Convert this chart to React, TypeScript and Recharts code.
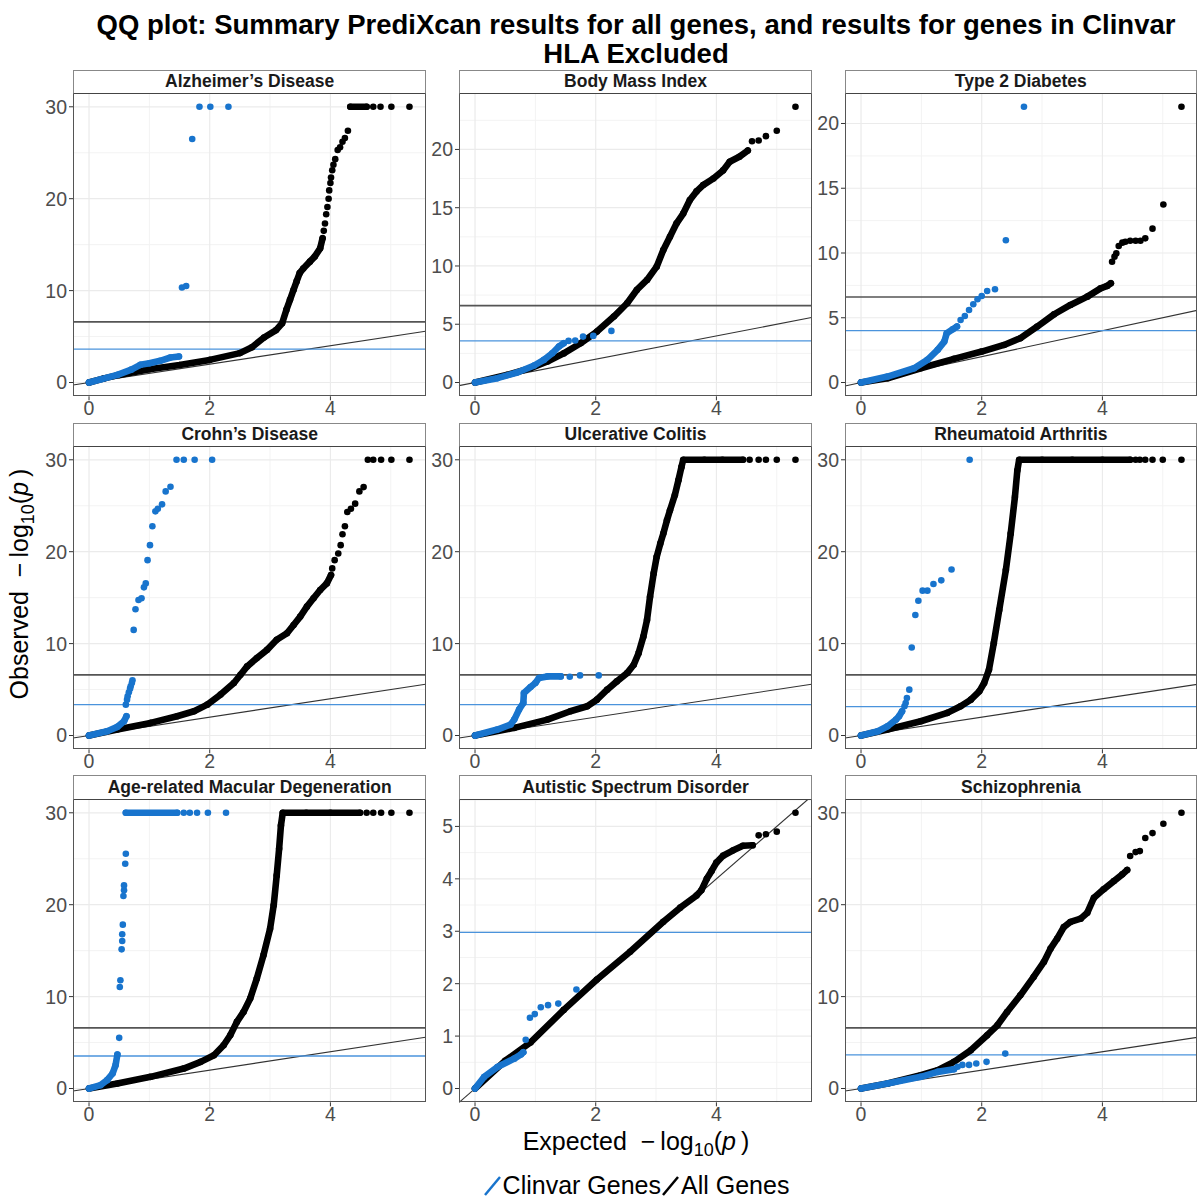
import React from "react";
import { ScatterChart, Scatter, XAxis, YAxis, ReferenceLine } from "recharts";

// ---- data: [expected, observed] pairs read off the picture ----
// "Line" arrays are runs of densely packed points, "Dots" are the separate ones.

const alzAllLine = [
  [[0, 0], [0.25, 0.45], [0.5, 0.83], [1.0, 1.45], [1.5, 1.9], [2.0, 2.46], [2.5, 3.2], [2.7, 3.84], [2.9, 4.9], [3.1, 5.7], [3.2, 6.45], [3.27, 7.9], [3.33, 9.0], [3.39, 10.1], [3.44, 11.0], [3.49, 11.9], [3.55, 12.4], [3.66, 13.15], [3.74, 13.7], [3.83, 14.6], [3.87, 15.7]],
  [[4.33, 30], [4.6, 30]],
];
const alzAllDots = [[3.89, 16.5], [3.91, 17.3], [3.93, 18.3], [3.95, 19.1], [3.97, 20.0], [3.98, 20.9], [4.0, 21.7], [4.01, 22.3], [4.03, 23.1], [4.05, 23.7], [4.08, 24.3], [4.12, 25.3], [4.16, 25.6], [4.2, 26.2], [4.24, 26.6], [4.29, 27.4], [4.71, 30], [4.83, 30], [5.01, 30], [5.31, 30]];
const alzClinLine = [[[0, 0], [0.2, 0.35], [0.47, 0.83], [0.7, 1.4], [0.85, 1.92], [1.0, 2.1], [1.18, 2.36], [1.35, 2.72], [1.49, 2.83]]];
const alzClinDots = [[1.54, 10.33], [1.61, 10.5], [1.71, 26.5], [1.83, 30], [2.01, 30], [2.31, 30]];

const bmiAllLine = [[[0, 0], [0.54, 0.66], [0.92, 1.23], [1.2, 1.8], [1.47, 2.5], [1.75, 3.37], [2.02, 4.37], [2.3, 5.66], [2.52, 6.8], [2.68, 7.94], [2.85, 8.8], [3.01, 9.94], [3.12, 11.37], [3.23, 12.5], [3.34, 13.66], [3.45, 14.5], [3.56, 15.66], [3.67, 16.4], [3.78, 16.94], [3.95, 17.5], [4.11, 18.2], [4.22, 18.94], [4.38, 19.37], [4.52, 19.9]]];
const bmiAllDots = [[4.59, 20.7], [4.7, 20.77], [4.82, 21.14], [5.0, 21.6], [5.31, 23.66]];
const bmiClinLine = [[[0, 0], [0.37, 0.37], [0.7, 0.86], [0.98, 1.46], [1.14, 1.94], [1.28, 2.51], [1.39, 3.09], [1.47, 3.37]]];
const bmiClinDots = [[1.55, 3.57], [1.66, 3.6], [1.79, 3.94], [1.96, 4.0], [2.26, 4.43]];

const t2dAllLine = [[[0, 0], [0.44, 0.33], [0.99, 1.1], [1.54, 1.83], [2.0, 2.39], [2.37, 2.9], [2.64, 3.42], [2.92, 4.32], [3.2, 5.27], [3.47, 5.99], [3.75, 6.63], [3.97, 7.27], [4.08, 7.46], [4.14, 7.66]]];
const t2dAllDots = [[4.16, 9.33], [4.2, 9.72], [4.23, 9.97], [4.27, 10.54], [4.33, 10.8], [4.38, 10.87], [4.46, 10.95], [4.55, 10.95], [4.63, 10.95], [4.71, 11.13], [4.83, 11.88], [5.01, 13.75], [5.31, 21.29]];
const t2dClinLine = [[[0, 0], [0.44, 0.46], [0.88, 1.1], [1.1, 1.75], [1.27, 2.52], [1.38, 3.16], [1.42, 3.8], [1.52, 4.11], [1.59, 4.32]]];
const t2dClinDots = [[1.65, 4.83], [1.72, 5.14], [1.79, 5.6], [1.86, 6.04], [1.93, 6.43], [2.0, 6.68], [2.09, 7.07], [2.22, 7.2], [2.4, 10.98], [2.7, 21.29]];

const crohnAllLine = [[[0, 0], [0.47, 0.65], [1.02, 1.37], [1.46, 2.1], [1.74, 2.64], [1.96, 3.36], [2.18, 4.45], [2.4, 5.71], [2.51, 6.61], [2.62, 7.52], [2.78, 8.42], [2.95, 9.32], [3.11, 10.41], [3.28, 11.13], [3.39, 12.03], [3.5, 12.94], [3.61, 14.02], [3.72, 14.93], [3.83, 15.83], [3.94, 16.55], [4.01, 17.46]]];
const crohnAllDots = [[4.03, 18.18], [4.07, 19.08], [4.13, 19.8], [4.17, 20.71], [4.2, 21.9], [4.24, 22.77], [4.28, 24.32], [4.34, 24.68], [4.41, 25.23], [4.48, 26.56], [4.55, 27.03], [4.62, 30], [4.71, 30], [4.84, 30], [5.01, 30], [5.31, 30]];
const crohnClinLine = [[[0, 0], [0.3, 0.47], [0.47, 0.94], [0.58, 1.55], [0.62, 2.1]]];
const crohnClinDots = [[0.61, 3.36], [0.63, 3.9], [0.64, 4.26], [0.66, 4.7], [0.68, 5.1], [0.69, 5.35], [0.71, 5.7], [0.72, 6.0], [0.74, 11.49], [0.77, 13.73], [0.82, 14.75], [0.87, 14.93], [0.91, 16.12], [0.94, 16.55], [0.97, 19.08], [1.01, 20.71], [1.05, 22.77], [1.1, 24.39], [1.14, 24.68], [1.21, 25.15], [1.27, 26.56], [1.35, 27.07], [1.45, 30], [1.57, 30], [1.75, 30], [2.04, 30]];

const ucAllLine = [[[0, 0], [0.65, 0.83], [1.2, 1.73], [1.58, 2.64], [1.86, 3.18], [2.02, 3.9], [2.19, 4.99], [2.35, 5.89], [2.52, 6.79], [2.63, 7.7], [2.71, 8.96], [2.79, 10.77], [2.85, 12.58], [2.9, 15.1], [2.96, 17.64], [3.01, 19.44], [3.07, 20.89], [3.12, 21.97], [3.18, 23.42], [3.23, 24.5], [3.31, 26.13], [3.37, 27.76], [3.42, 29.2], [3.45, 30], [3.8, 30], [4.1, 30], [4.44, 30]]];
const ucAllDots = [[4.55, 30], [4.7, 30], [4.82, 30], [5.0, 30], [5.31, 30]];
const ucClinLine = [[[0, 0], [0.37, 0.65], [0.59, 1.19], [0.65, 1.73], [0.73, 2.82], [0.8, 3.54], [0.81, 4.63], [0.92, 5.28], [1.0, 5.71], [1.06, 6.25], [1.2, 6.43], [1.42, 6.43]]];
const ucClinDots = [[1.57, 6.4], [1.74, 6.54], [2.05, 6.54]];

const raAllLine = [[[0, 0], [0.44, 0.65], [0.99, 1.55], [1.43, 2.46], [1.65, 3.18], [1.82, 3.9], [1.96, 4.81], [2.04, 5.71], [2.12, 7.16], [2.2, 10.05], [2.29, 13.66], [2.4, 18.0], [2.48, 21.97], [2.55, 25.95], [2.59, 28.84], [2.62, 30], [3.0, 30], [3.5, 30], [4.0, 30], [4.46, 30]]];
const raAllDots = [[4.55, 30], [4.62, 30], [4.71, 30], [4.83, 30], [5.0, 30], [5.31, 30]];
const raClinLine = [[[0, 0], [0.28, 0.47], [0.44, 1.01], [0.58, 1.73], [0.63, 2.1], [0.68, 2.64]]];
const raClinDots = [[0.72, 3.18], [0.74, 3.54], [0.76, 4.08], [0.8, 4.99], [0.84, 9.58], [0.9, 13.12], [0.95, 14.67], [1.02, 15.76], [1.1, 15.76], [1.2, 16.48], [1.33, 16.88], [1.5, 18.07], [1.8, 30]];

const amdAllLine = [[[0, 0], [0.47, 0.54], [1.02, 1.27], [1.57, 2.17], [1.85, 2.9], [2.07, 3.62], [2.23, 4.71], [2.34, 5.8], [2.45, 7.25], [2.56, 8.33], [2.67, 9.78], [2.78, 11.96], [2.89, 14.49], [3.0, 17.39], [3.06, 19.93], [3.11, 23.19], [3.15, 26.09], [3.18, 28.62], [3.21, 30], [3.6, 30], [4.0, 30], [4.49, 30]]];
const amdAllDots = [[4.6, 30], [4.71, 30], [4.84, 30], [5.01, 30], [5.31, 30]];
const amdClinLine = [
  [[0, 0], [0.19, 0.36], [0.3, 0.91], [0.39, 1.63], [0.44, 2.54], [0.47, 3.7]],
  [[0.61, 30], [1.46, 30]],
];
const amdClinDots = [[0.5, 5.51], [0.51, 11.05], [0.52, 11.78], [0.54, 15.14], [0.55, 16.05], [0.55, 16.78], [0.56, 17.83], [0.57, 20.94], [0.58, 21.56], [0.58, 22.1], [0.6, 24.46], [0.61, 25.54], [1.57, 30], [1.67, 30], [1.79, 30], [1.97, 30], [2.27, 30]];

const asdAllLine = [[[0, 0], [0.5, 0.53], [0.92, 0.88], [1.47, 1.5], [2.02, 2.08], [2.57, 2.61], [3.12, 3.18], [3.4, 3.45], [3.67, 3.68], [3.75, 3.78], [3.84, 4.0], [3.92, 4.15], [4.0, 4.31], [4.11, 4.44], [4.27, 4.54], [4.44, 4.63], [4.6, 4.64]]];
const asdAllDots = [[4.7, 4.83], [4.82, 4.85], [5.0, 4.9], [5.31, 5.26]];
const asdClinLine = [[[0, 0], [0.15, 0.22], [0.37, 0.41], [0.65, 0.57], [0.76, 0.65], [0.8, 0.69]]];
const asdClinDots = [[0.84, 0.93], [0.91, 1.35], [0.99, 1.42], [1.09, 1.55], [1.21, 1.59], [1.38, 1.62], [1.68, 1.89]];

const sczAllLine = [[[0, 0], [0.44, 0.54], [0.99, 1.45], [1.27, 1.99], [1.54, 2.9], [1.82, 4.17], [2.09, 5.8], [2.26, 6.88], [2.42, 8.33], [2.64, 10.14], [2.86, 12.14], [3.03, 13.77], [3.14, 15.22], [3.25, 16.3], [3.36, 17.57], [3.47, 18.12], [3.64, 18.48], [3.75, 19.13], [3.86, 20.76], [4.02, 21.67], [4.19, 22.57], [4.33, 23.3], [4.41, 23.77]]];
const sczAllDots = [[4.46, 25.29], [4.55, 25.72], [4.62, 25.83], [4.71, 27.25], [4.83, 27.79], [5.01, 28.8], [5.31, 30]];
const sczClinLine = [[[0, 0], [0.44, 0.54], [0.99, 1.27], [1.27, 1.81], [1.54, 2.1]]];
const sczClinDots = [[1.6, 2.36], [1.68, 2.57], [1.79, 2.57], [1.91, 2.72], [2.08, 2.9], [2.39, 3.8]];

const panelTitles = [
  "Alzheimer’s Disease", "Body Mass Index", "Type 2 Diabetes",
  "Crohn’s Disease", "Ulcerative Colitis", "Rheumatoid Arthritis",
  "Age-related Macular Degeneration", "Autistic Spectrum Disorder", "Schizophrenia",
];
const clinvarThreshold = [3.63, 3.57, 4.0, 3.36, 3.36, 3.14, 3.54, 2.98, 3.65];
const bonferroni = 6.6;
const ticks30 = [0, 10, 20, 30];
const ticks20 = [0, 5, 10, 15, 20];
const ticks5 = [0, 1, 2, 3, 4, 5];
const panelYTicks = [ticks30, ticks20, ticks20, ticks30, ticks30, ticks30, ticks30, ticks5, ticks30];
const xTicks = [0, 2, 4];
const xMinor = [1, 3, 5];

const panels = [
  [alzAllLine, alzAllDots, alzClinLine, alzClinDots],
  [bmiAllLine, bmiAllDots, bmiClinLine, bmiClinDots],
  [t2dAllLine, t2dAllDots, t2dClinLine, t2dClinDots],
  [crohnAllLine, crohnAllDots, crohnClinLine, crohnClinDots],
  [ucAllLine, ucAllDots, ucClinLine, ucClinDots],
  [raAllLine, raAllDots, raClinLine, raClinDots],
  [amdAllLine, amdAllDots, amdClinLine, amdClinDots],
  [asdAllLine, asdAllDots, asdClinLine, asdClinDots],
  [sczAllLine, sczAllDots, sczClinLine, sczClinDots],
];

// ---- layout ----
const FONT = '"Liberation Sans", Arial, Helvetica, sans-serif';
const BLUE = "#1874cd";
const PW = 352.5;
const PH = 303.3;
const STRIP_H = 23.3;
const YW = 50;
const XH = 34;
const colLeft = [73.4, 459.3, 844.6];
const rowTop = [93, 445.8, 798.7];

const toPts = (arr: number[][]) => arr.map(([x, y]) => ({ x, y }));
const dot = (color: string) => (p: any) => <circle cx={p.cx} cy={p.cy} r={3.3} fill={color} />;
const bandLine = (color: string) => ({ stroke: color, strokeWidth: 6.6, strokeLinecap: "round", strokeLinejoin: "round" });

function Panel({ idx }: { idx: number }) {
  const [allLine, allDots, clinLine, clinDots] = panels[idx];
  const every = [...allLine.flat(), ...allDots, ...clinLine.flat(), ...clinDots];
  const xMax = Math.max(...every.map((d) => d[0]));
  const yMax = Math.max(...every.map((d) => d[1]));
  const xDom = [-0.05 * xMax, 1.05 * xMax];
  const yDom = [-0.05 * yMax, 1.05 * yMax];
  const yTicks = panelYTicks[idx];
  const step = yTicks[1] - yTicks[0];
  const yMinor = yTicks.map((t) => t + step / 2).filter((v) => v < yDom[1]);
  const s = Math.max(xDom[0], yDom[0]);
  const e = Math.min(xDom[1], yDom[1]);
  const left = colLeft[idx % 3];
  const top = rowTop[Math.floor(idx / 3)];
  const tickStyle = { fontSize: 19.5, fill: "#4d4d4d", fontFamily: FONT };

  return (
    <>
      <div style={{ position: "absolute", left: left - YW, top, width: PW + YW, height: PH + XH }}>
        <ScatterChart width={PW + YW} height={PH + XH} margin={{ top: 0, right: 0, bottom: 0, left: 0 }}>
          <XAxis type="number" dataKey="x" domain={xDom} ticks={xTicks} allowDataOverflow height={XH}
            axisLine={false} tickSize={4} tickMargin={1} tickLine={{ stroke: "#333" }} tick={tickStyle} />
          <YAxis type="number" dataKey="y" domain={yDom} ticks={yTicks} allowDataOverflow width={YW}
            axisLine={false} tickSize={4} tickMargin={2} tickLine={{ stroke: "#333" }} tick={tickStyle} />
          {xMinor.map((v) => <ReferenceLine key={"xm" + v} x={v} stroke="#f3f3f3" strokeWidth={1} />)}
          {yMinor.map((v) => <ReferenceLine key={"ym" + v} y={v} stroke="#f3f3f3" strokeWidth={1} />)}
          {xTicks.map((v) => <ReferenceLine key={"xM" + v} x={v} stroke="#ebebeb" strokeWidth={1.2} />)}
          {yTicks.map((v) => <ReferenceLine key={"yM" + v} y={v} stroke="#ebebeb" strokeWidth={1.2} />)}
          <ReferenceLine segment={[{ x: s, y: s }, { x: e, y: e }]} stroke="#333" strokeWidth={1.1} />
          <ReferenceLine y={bonferroni} stroke="#555" strokeWidth={1.6} />
          <ReferenceLine y={clinvarThreshold[idx]} stroke="#4a93dc" strokeWidth={1.3} />
          {allLine.map((run, i) => (
            <Scatter key={"al" + i} data={toPts(run)} line={bandLine("#000")} shape={dot("#000")} isAnimationActive={false} />
          ))}
          <Scatter data={toPts(allDots)} shape={dot("#000")} isAnimationActive={false} />
          {clinLine.map((run, i) => (
            <Scatter key={"cl" + i} data={toPts(run)} line={bandLine(BLUE)} shape={dot(BLUE)} isAnimationActive={false} />
          ))}
          <Scatter data={toPts(clinDots)} shape={dot(BLUE)} isAnimationActive={false} />
        </ScatterChart>
      </div>
      <div style={{ position: "absolute", left, top, width: PW, height: PH, border: "1px solid #555", boxSizing: "border-box", pointerEvents: "none" }} />
      <div style={{ position: "absolute", left, top: top - STRIP_H, width: PW, height: STRIP_H + 1, border: "1px solid #888", borderBottom: "1.5px solid #444", boxSizing: "border-box", background: "#fff", display: "flex", alignItems: "center", justifyContent: "center", fontFamily: FONT, fontWeight: "bold", fontSize: 17.5, color: "#1a1a1a" }}>
        {panelTitles[idx]}
      </div>
    </>
  );
}

export default function App() {
  return (
    <div style={{ position: "absolute", left: 0, top: 0, width: 1198, height: 1198, background: "#fff", fontFamily: FONT, overflow: "hidden" }}>
      <div style={{ position: "absolute", left: 0, width: 1272, top: 10, textAlign: "center", fontWeight: "bold", fontSize: 27.5, lineHeight: "29px", color: "#000" }}>
        QQ plot: Summary PrediXcan results for all genes, and results for genes in Clinvar
        <br />
        HLA Excluded
      </div>
      {panels.map((_, i) => <Panel key={i} idx={i} />)}
      <div style={{ position: "absolute", left: 22, top: 584, width: 0, height: 0 }}>
        <div style={{ position: "absolute", transform: "translate(-50%, -50%) rotate(-90deg)", whiteSpace: "nowrap", fontSize: 25, color: "#000" }}>
          Observed&nbsp;&nbsp;−&#8201;log<sub style={{ fontSize: 18 }}>10</sub>(<i>p</i>&#8201;)
        </div>
      </div>
      <div style={{ position: "absolute", left: 0, width: 1272, top: 1127, textAlign: "center", fontSize: 25, color: "#000", whiteSpace: "nowrap" }}>
        Expected&nbsp; −&#8201;log<sub style={{ fontSize: 18 }}>10</sub>(<i>p</i>&#8201;)
      </div>
      <div style={{ position: "absolute", left: 0, width: 1272, top: 1173, height: 24, display: "flex", justifyContent: "center", alignItems: "center", fontSize: 25, lineHeight: "24px", color: "#000" }}>
        <svg width={20} height={22}><line x1={2} y1={21} x2={17} y2={3} stroke={BLUE} strokeWidth={2.5} /></svg>
        <span>Clinvar Genes</span>
        <svg width={20} height={22}><line x1={2} y1={21} x2={17} y2={3} stroke="#000" strokeWidth={2.5} /></svg>
        <span>All Genes</span>
      </div>
    </div>
  );
}
